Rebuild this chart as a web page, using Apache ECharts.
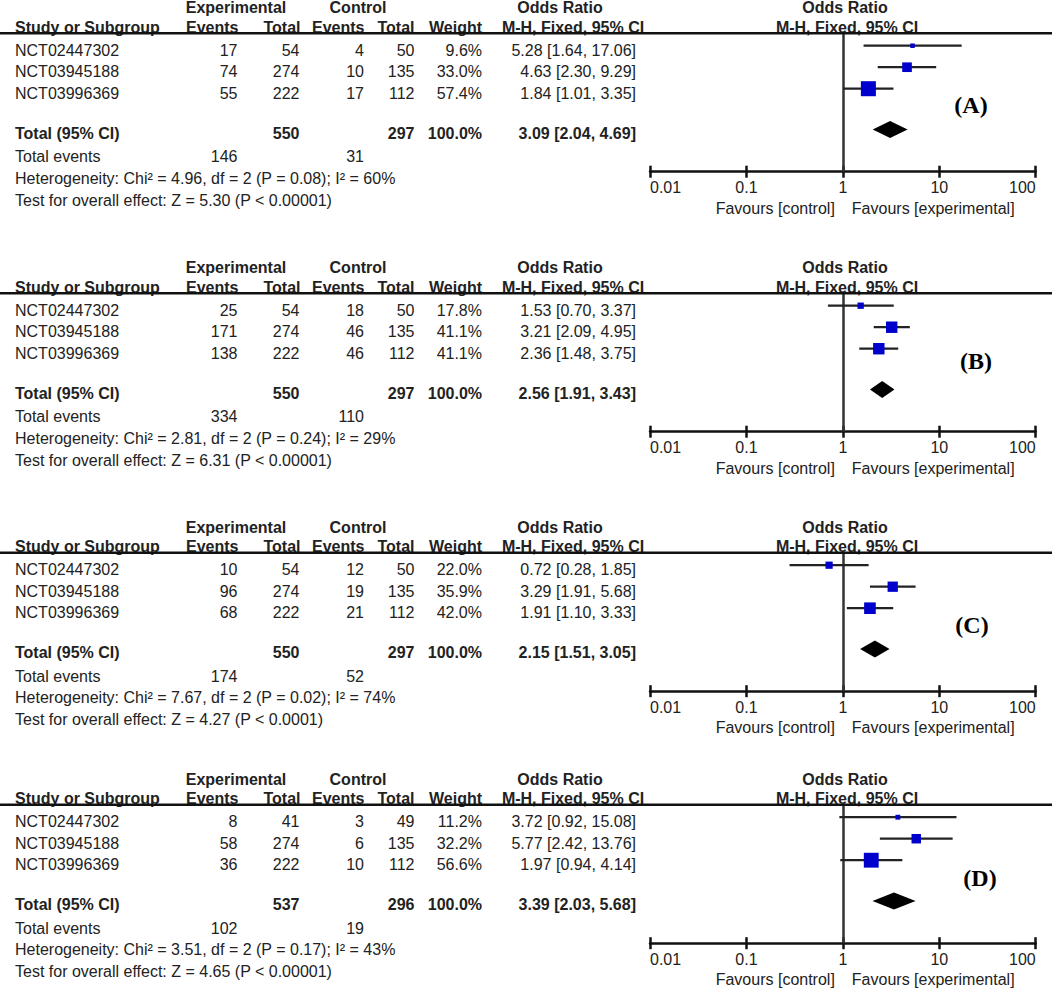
<!DOCTYPE html>
<html><head><meta charset="utf-8">
<script src="https://cdn.jsdelivr.net/npm/echarts@6/dist/echarts.min.js"></script>
<style>html,body{margin:0;padding:0;background:#fff}#c{width:1052px;height:988px}</style>
</head><body><div id="c"></div>
<script>
// ---------------- data ----------------
const studies = ["NCT02447302", "NCT03945188", "NCT03996369"];
const panelLabels = ["(A)", "(B)", "(C)", "(D)"];
const expEvents  = [[17, 74, 55], [25, 171, 138], [10, 96, 68], [8, 58, 36]];
const expTotals  = [[54, 274, 222], [54, 274, 222], [54, 274, 222], [41, 274, 222]];
const ctrlEvents = [[4, 10, 17], [18, 46, 46], [12, 19, 21], [3, 6, 10]];
const ctrlTotals = [[50, 135, 112], [50, 135, 112], [50, 135, 112], [49, 135, 112]];
const weights    = [[9.6, 33.0, 57.4], [17.8, 41.1, 41.1], [22.0, 35.9, 42.0], [11.2, 32.2, 56.6]];
const oddsRatios = [[5.28, 4.63, 1.84], [1.53, 3.21, 2.36], [0.72, 3.29, 1.91], [3.72, 5.77, 1.97]];
const ciLower    = [[1.64, 2.30, 1.01], [0.70, 2.09, 1.48], [0.28, 1.91, 1.10], [0.92, 2.42, 0.94]];
const ciUpper    = [[17.06, 9.29, 3.35], [3.37, 4.95, 3.75], [1.85, 5.68, 3.33], [15.08, 13.76, 4.14]];
const totalExp   = [550, 550, 550, 537];
const totalCtrl  = [297, 297, 297, 296];
const pooledOR   = [3.09, 2.56, 2.15, 3.39];
const pooledLow  = [2.04, 1.91, 1.51, 2.03];
const pooledHigh = [4.69, 3.43, 3.05, 5.68];
const totalEventsExp  = [146, 334, 174, 102];
const totalEventsCtrl = [31, 110, 52, 19];
const chi2  = ["4.96", "2.81", "7.67", "3.51"];
const dfs   = [2, 2, 2, 2];
const hetP  = ["0.08", "0.24", "0.02", "0.17"];
const i2    = [60, 29, 74, 43];
const zVals = ["5.30", "6.31", "4.27", "4.65"];
const zP    = ["P < 0.00001", "P < 0.00001", "P < 0.0001", "P < 0.00001"];
const tickLabels = ["0.01", "0.1", "1", "10", "100"];

// ---------------- layout ----------------
const PANEL_OFF = [0, 260, 519.5, 771.5];
const LABEL_POS = [[971, 105], [976, 361], [972, 625], [980, 878]];
const FONT = '"Liberation Sans", Arial, sans-serif';
const TXT = '#222';
const LINE = '#111';
const COL = { study: 15, expEv: 237.5, expTot: 299.5, ctrlEv: 364, ctrlTot: 414.5, weight: 482, or: 636 };
const Y_MIN = -0.577, Y_MAX = 5.86, TOTAL_ROW = 3.9;
const GRID_H = 138.4;

function txt(x, y, s, align, bold, extra) {
  return Object.assign({
    type: 'text', x: x, y: y, silent: true,
    style: { text: s, fill: TXT, fontSize: 16, fontFamily: FONT, fontWeight: bold ? 'bold' : 'normal',
      textAlign: align, align: align, textVerticalAlign: 'middle', verticalAlign: 'middle' }
  }, extra || {});
}
const f2 = v => v.toFixed(2);
const orStr = (o, l, h) => f2(o) + ' [' + f2(l) + ', ' + f2(h) + ']';

const graphics = [];
const grids = [], xAxes = [], yAxes = [], series = [];

for (let p = 0; p < 4; p++) {
  const off = PANEL_OFF[p];
  const h1 = 7.8 + off;
  graphics.push(txt(236, h1, 'Experimental', 'center', true));
  graphics.push(txt(358, h1, 'Control', 'center', true));
  graphics.push(txt(560, h1, 'Odds Ratio', 'center', true));
  graphics.push(txt(845, h1, 'Odds Ratio', 'center', true));
  const h2 = 27 + off;
  graphics.push(txt(COL.study, h2, 'Study or Subgroup', 'left', true));
  graphics.push(txt(238.5, h2, 'Events', 'right', true));
  graphics.push(txt(300.5, h2, 'Total', 'right', true));
  graphics.push(txt(364.5, h2, 'Events', 'right', true));
  graphics.push(txt(414.5, h2, 'Total', 'right', true));
  graphics.push(txt(482, h2, 'Weight', 'right', true));
  graphics.push(txt(573, h2, 'M-H, Fixed, 95% CI', 'center', true));
  graphics.push(txt(847, h2, 'M-H, Fixed, 95% CI', 'center', true));
  graphics.push({ type: 'line', silent: true, z: 10,
    shape: { x1: 0, y1: 33.3 + off, x2: 1052, y2: 33.3 + off },
    style: { stroke: LINE, lineWidth: 2.5 } });
  studies.forEach((s, i) => {
    const y = 50 + 21.65 * i + off;
    graphics.push(txt(COL.study, y, s, 'left', false));
    graphics.push(txt(COL.expEv, y, String(expEvents[p][i]), 'right', false));
    graphics.push(txt(COL.expTot, y, String(expTotals[p][i]), 'right', false));
    graphics.push(txt(COL.ctrlEv, y, String(ctrlEvents[p][i]), 'right', false));
    graphics.push(txt(COL.ctrlTot, y, String(ctrlTotals[p][i]), 'right', false));
    graphics.push(txt(COL.weight, y, weights[p][i].toFixed(1) + '%', 'right', false));
    graphics.push(txt(COL.or, y, orStr(oddsRatios[p][i], ciLower[p][i], ciUpper[p][i]), 'right', false));
  });
  const yt = 133.3 + off;
  graphics.push(txt(COL.study, yt, 'Total (95% CI)', 'left', true));
  graphics.push(txt(COL.expTot, yt, String(totalExp[p]), 'right', true));
  graphics.push(txt(COL.ctrlTot, yt, String(totalCtrl[p]), 'right', true));
  graphics.push(txt(COL.weight, yt, '100.0%', 'right', true));
  graphics.push(txt(COL.or, yt, orStr(pooledOR[p], pooledLow[p], pooledHigh[p]), 'right', true));
  const ye = 156.7 + off;
  graphics.push(txt(COL.study, ye, 'Total events', 'left', false));
  graphics.push(txt(COL.expEv, ye, String(totalEventsExp[p]), 'right', false));
  graphics.push(txt(COL.ctrlEv, ye, String(totalEventsCtrl[p]), 'right', false));
  graphics.push(txt(COL.study, 178.3 + off,
    'Heterogeneity: Chi\u00b2 = ' + chi2[p] + ', df = ' + dfs[p] + ' (P = ' + hetP[p] + '); I\u00b2 = ' + i2[p] + '%', 'left', false));
  graphics.push(txt(COL.study, 200 + off,
    'Test for overall effect: Z = ' + zVals[p] + ' (' + zP[p] + ')', 'left', false));
  graphics.push({ type: 'text', x: LABEL_POS[p][0], y: LABEL_POS[p][1], silent: true,
    style: { text: panelLabels[p], fill: '#000', fontSize: 24, fontWeight: 'bold', fontFamily: '"Liberation Serif", "Times New Roman", serif',
      textAlign: 'center', align: 'center', textVerticalAlign: 'middle', verticalAlign: 'middle' } });

  grids.push({ left: 650, width: 385.7, top: 33.3 + off, height: GRID_H, containLabel: false });
  const baseX = {
    gridIndex: p, type: 'log', logBase: 10, min: 0.01, max: 100, splitNumber: 4,
    splitLine: { show: false }, minorTick: { show: false }, minorSplitLine: { show: false }
  };
  // main axis at the bottom: line, downward ticks, labels
  xAxes.push(Object.assign({}, baseX, {
    position: 'bottom',
    axisLine: { show: true, onZero: false, lineStyle: { color: LINE, width: 2.5 } },
    axisTick: { show: true, inside: false, length: 6, lineStyle: { color: LINE, width: 2.5 } },
    axisLabel: { show: true, margin: 8, fontSize: 16, fontFamily: FONT, color: TXT,
      alignMinLabel: 'left', alignMaxLabel: 'right',
      formatter: function (v) {
        const k = Math.round(Math.log10(v)) + 2;
        return tickLabels[k] !== undefined ? tickLabels[k] : '';
      } }
  }));
  // companion axis shifted onto the bottom line: upward ticks only
  xAxes.push(Object.assign({}, baseX, {
    position: 'top', offset: -GRID_H,
    axisLine: { show: false, onZero: false },
    axisTick: { show: true, inside: false, length: 6, lineStyle: { color: LINE, width: 2.5 } },
    axisLabel: { show: false }
  }));
  yAxes.push({ gridIndex: p, type: 'value', inverse: true, min: Y_MIN, max: Y_MAX, show: false });

  series.push({
    type: 'custom', name: 'studies' + p, xAxisIndex: p * 2, yAxisIndex: p, z: 3,
    data: studies.map((s, i) => [oddsRatios[p][i], ciLower[p][i], ciUpper[p][i], i, weights[p][i]]),
    encode: { x: [0, 1, 2], y: 3 },
    renderItem: function (params, api) {
      const row = api.value(3);
      const c = api.coord([api.value(0), row]);
      const a = api.coord([api.value(1), row]);
      const b = api.coord([api.value(2), row]);
      const s = 2.4 + 0.22 * api.value(4);
      return { type: 'group', children: [
        { type: 'line', shape: { x1: a[0], y1: a[1], x2: b[0], y2: b[1] }, style: { stroke: '#222', lineWidth: 2.2 } },
        { type: 'rect', shape: { x: c[0] - s / 2, y: c[1] - s / 2, width: s, height: s }, style: { fill: '#0000cc' } }
      ] };
    },
    markLine: {
      silent: true, symbol: ['none', 'none'], label: { show: false }, z: 2,
      lineStyle: { color: '#333', width: 2.5, type: 'solid' },
      data: [{ xAxis: 1 }]
    }
  });
  series.push({
    type: 'custom', name: 'total' + p, xAxisIndex: p * 2, yAxisIndex: p, z: 4,
    data: [[pooledOR[p], pooledLow[p], pooledHigh[p], TOTAL_ROW]],
    encode: { x: [0, 1, 2], y: 3 },
    renderItem: function (params, api) {
      const row = api.value(3);
      const c = api.coord([api.value(0), row]);
      const a = api.coord([api.value(1), row]);
      const b = api.coord([api.value(2), row]);
      return { type: 'polygon', shape: { points: [[a[0], c[1]], [c[0], c[1] - 8.5], [b[0], c[1]], [c[0], c[1] + 8.5]] },
        style: { fill: '#000' } };
    }
  });
  series.push({
    type: 'custom', name: 'favours' + p, xAxisIndex: p * 2, yAxisIndex: p,
    data: [[1, Y_MAX]], encode: { x: 0, y: 1 },
    renderItem: function (params, api) {
      const pt = api.coord([api.value(0), api.value(1)]);
      const st = { fill: TXT, fontSize: 16, fontFamily: FONT, verticalAlign: 'middle', textVerticalAlign: 'middle' };
      return { type: 'group', children: [
        { type: 'text', x: pt[0] - 8, y: pt[1] + 36.5, style: Object.assign({ text: 'Favours [control]', align: 'right', textAlign: 'right' }, st) },
        { type: 'text', x: pt[0] + 9, y: pt[1] + 36.5, style: Object.assign({ text: 'Favours [experimental]', align: 'left', textAlign: 'left' }, st) }
      ] };
    }
  });
}

const chart = echarts.init(document.getElementById('c'), null, { renderer: 'svg' });
chart.setOption({
  animation: false,
  backgroundColor: '#fff',
  grid: grids, xAxis: xAxes, yAxis: yAxes, series: series,
  graphic: graphics
});
</script>
</body></html>
